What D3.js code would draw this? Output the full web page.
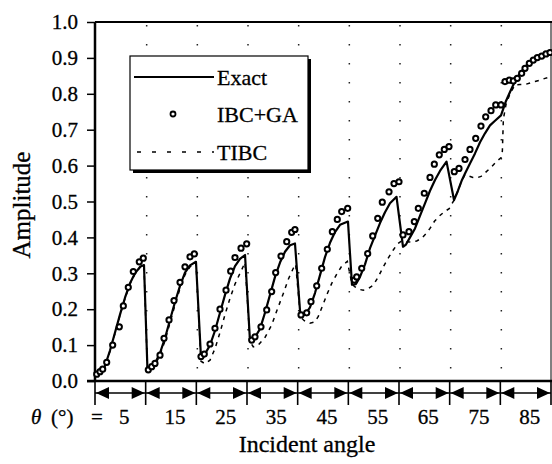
<!DOCTYPE html>
<html>
<head>
<meta charset="utf-8">
<script src="https://cdn.jsdelivr.net/npm/d3@7"></script>
<style>
  html, body { margin: 0; padding: 0; background: #fff; }
  svg { display: block; }
  text { font-family: "Liberation Serif", "Times New Roman", serif; fill: #000; stroke: #000; stroke-width: 0.3; }
</style>
</head>
<body>
<svg id="chart" width="552" height="464"></svg>
<script>
// Incident angle sweeps: each 10-degree band holds one sweep of the amplitude.
const angleBands = [0, 10, 20, 30, 40, 50, 60, 70, 80, 90];
const angleLabels = [5, 15, 25, 35, 45, 55, 65, 75, 85];
const amplitudeTicks = [0.0, 0.1, 0.2, 0.3, 0.4, 0.5, 0.6, 0.7, 0.8, 0.9, 1.0];

// Exact solution [angle position, amplitude]
const exactPoints = [
  [0, 0.012], [0.99, 0.022], [1.97, 0.042], [2.96, 0.085], [3.95, 0.135], [4.93, 0.185],
  [5.92, 0.232], [6.91, 0.272], [7.89, 0.300], [8.88, 0.318], [9.67, 0.323],
  [10.36, 0.030], [11.25, 0.040], [12.04, 0.055], [12.83, 0.078], [13.82, 0.12], [14.80, 0.17],
  [15.79, 0.22], [16.78, 0.265], [17.76, 0.302], [18.75, 0.322], [19.93, 0.332],
  [20.92, 0.065], [21.71, 0.075], [22.70, 0.10], [23.68, 0.14], [24.67, 0.19], [25.66, 0.24],
  [26.64, 0.285], [27.63, 0.32], [28.62, 0.34], [29.61, 0.351],
  [30.59, 0.112], [31.58, 0.122], [32.57, 0.145], [33.55, 0.19], [34.54, 0.24], [35.53, 0.29],
  [36.51, 0.33], [37.50, 0.36], [38.49, 0.378], [39.47, 0.383],
  [40.56, 0.178], [41.45, 0.185], [42.43, 0.205], [43.42, 0.245], [44.41, 0.295], [45.39, 0.345],
  [46.38, 0.385], [47.37, 0.415], [48.36, 0.435], [49.93, 0.444],
  [50.72, 0.268], [51.51, 0.27], [52.30, 0.29], [53.29, 0.325], [54.28, 0.37], [55.26, 0.405],
  [56.25, 0.44], [57.24, 0.47], [58.22, 0.495], [59.51, 0.513],
  [60.79, 0.374], [61.38, 0.38], [62.17, 0.40], [63.16, 0.425], [64.14, 0.46], [65.13, 0.495],
  [66.12, 0.53], [67.11, 0.56], [68.09, 0.585], [69.38, 0.611],
  [70.86, 0.504], [71.64, 0.53], [72.43, 0.56], [73.03, 0.578], [74.01, 0.606], [75.0, 0.634],
  [75.99, 0.665], [76.97, 0.69], [77.96, 0.712], [78.95, 0.725], [80.13, 0.74],
  [81.12, 0.78], [81.91, 0.805], [82.89, 0.835], [83.88, 0.857], [84.87, 0.875], [85.86, 0.89],
  [86.84, 0.899], [87.83, 0.905], [88.82, 0.912], [90, 0.922]
];

// IBC + GA approximation (markers)
const ibcGaPoints = [
  [0.34, 0.019], [0.99, 0.026], [1.52, 0.033], [2.31, 0.052], [3.49, 0.10], [4.80, 0.151],
  [5.59, 0.209], [6.57, 0.261], [7.56, 0.305], [8.74, 0.332], [9.53, 0.342],
  [10.52, 0.031], [11.19, 0.040], [11.84, 0.049], [12.83, 0.072], [13.62, 0.119], [14.61, 0.170],
  [15.59, 0.224], [16.78, 0.275], [17.76, 0.318], [18.75, 0.346], [19.60, 0.354],
  [20.92, 0.068], [21.57, 0.075], [22.70, 0.103], [23.68, 0.147], [24.67, 0.20], [25.86, 0.253],
  [26.78, 0.306], [27.63, 0.344], [28.82, 0.37], [29.94, 0.382],
  [30.93, 0.114], [31.58, 0.123], [32.76, 0.151], [33.89, 0.198], [34.87, 0.249], [35.66, 0.302],
  [36.71, 0.348], [37.84, 0.388], [38.82, 0.414], [39.47, 0.422],
  [40.66, 0.184], [41.78, 0.19], [42.63, 0.221], [43.76, 0.265], [44.74, 0.314], [45.85, 0.367],
  [46.84, 0.416], [47.82, 0.45], [48.69, 0.472], [49.87, 0.481],
  [51.18, 0.281], [51.65, 0.29], [52.64, 0.314], [53.82, 0.355], [54.81, 0.404], [55.80, 0.453],
  [56.70, 0.498], [58.03, 0.527], [59.01, 0.55], [60.0, 0.555],
  [60.79, 0.407], [61.97, 0.416], [63.02, 0.444], [63.81, 0.481], [64.99, 0.523], [66.12, 0.567],
  [66.97, 0.604], [67.95, 0.63], [68.94, 0.645], [69.87, 0.653],
  [70.91, 0.583], [71.84, 0.592], [73.03, 0.617], [74.01, 0.645], [75.14, 0.676], [76.18, 0.71],
  [77.11, 0.736], [78.16, 0.753], [79.09, 0.769], [80.13, 0.769],
  [80.92, 0.834], [81.77, 0.838], [82.56, 0.836], [83.35, 0.843], [84.21, 0.857], [84.87, 0.871],
  [85.72, 0.885], [86.51, 0.894], [87.30, 0.901], [88.16, 0.905], [89.01, 0.911], [89.80, 0.915]
];

// TIBC approximation (dashed)
const tibcPoints = [
  [0, 0.012], [0.99, 0.021], [1.97, 0.040], [2.96, 0.083], [3.95, 0.133], [4.93, 0.183],
  [5.92, 0.230], [6.91, 0.270], [7.89, 0.298], [8.88, 0.316], [9.67, 0.322],
  [10.36, 0.028], [11.25, 0.036], [12.04, 0.050], [12.83, 0.072], [13.82, 0.112], [14.80, 0.162],
  [15.79, 0.212], [16.78, 0.258], [17.76, 0.296], [18.75, 0.318], [19.93, 0.330],
  [20.92, 0.055], [21.71, 0.048], [22.70, 0.058], [23.68, 0.09], [24.67, 0.135], [25.66, 0.185],
  [26.64, 0.23], [27.63, 0.27], [28.62, 0.30], [29.61, 0.33],
  [30.59, 0.11], [31.24, 0.095], [32.2, 0.10], [33.5, 0.12], [34.87, 0.156], [36.0, 0.20],
  [37.17, 0.244], [38.2, 0.285], [39.14, 0.314], [39.6, 0.325],
  [40.56, 0.178], [41.3, 0.168], [42.43, 0.161], [43.4, 0.165], [44.07, 0.18], [45.06, 0.215],
  [45.9, 0.245], [46.72, 0.272], [47.8, 0.30], [48.7, 0.32], [49.8, 0.333],
  [50.72, 0.27], [51.32, 0.262], [52.2, 0.255], [52.96, 0.253], [54.0, 0.258], [54.93, 0.267],
  [55.9, 0.29], [56.9, 0.318], [57.9, 0.343], [58.87, 0.365], [59.7, 0.382], [60.53, 0.39],
  [61.5, 0.388], [62.5, 0.387], [63.5, 0.39], [64.5, 0.398], [65.3, 0.41], [66.12, 0.425],
  [67.0, 0.445], [68.0, 0.46], [69.0, 0.472], [69.9, 0.48],
  [70.86, 0.504], [71.64, 0.53], [72.43, 0.56], [73.03, 0.574], [73.8, 0.571], [74.6, 0.567],
  [75.4, 0.566], [76.2, 0.570], [77.0, 0.58], [78.3, 0.597], [79.3, 0.612], [80.13, 0.622],
  [80.4, 0.64], [80.6, 0.73], [81.12, 0.77], [81.91, 0.80], [82.89, 0.825], [83.88, 0.826],
  [84.87, 0.826], [85.86, 0.83], [86.84, 0.834], [87.83, 0.838], [88.82, 0.843], [90, 0.848]
];

const legendItems = ["Exact", "IBC+GA", "TIBC"];

const svg = d3.select("#chart");
const plot = { left: 95, right: 551, top: 22, bottom: 381 };

const x = d3.scaleLinear().domain([0, 90]).range([plot.left, plot.right]);
const y = d3.scaleLinear().domain([0, 1]).range([plot.bottom, plot.top]);

// dotted vertical guides at band boundaries
svg.append("g")
  .selectAll("line")
  .data(angleBands.slice(1, -1))
  .join("line")
  .attr("x1", d => x(d) + 1).attr("x2", d => x(d) + 1)
  .attr("y1", plot.top + 3).attr("y2", plot.bottom)
  .attr("stroke", "#222")
  .attr("stroke-width", 1.5)
  .attr("stroke-dasharray", "1.5,17.5");

// frame
svg.append("line").attr("x1", plot.left).attr("x2", plot.right + 1)
  .attr("y1", plot.top).attr("y2", plot.top).attr("stroke", "#000").attr("stroke-width", 2.2);
svg.append("line").attr("x1", plot.right).attr("x2", plot.right)
  .attr("y1", plot.top).attr("y2", plot.bottom).attr("stroke", "#000").attr("stroke-width", 1);

// y axis
const yAxis = d3.axisLeft(y)
  .tickValues(amplitudeTicks)
  .tickFormat(d3.format(".1f"))
  .tickSize(8)
  .tickPadding(9);
const yg = svg.append("g").attr("transform", `translate(${plot.left},0)`).call(yAxis);
yg.select(".domain").attr("stroke", "#000").attr("stroke-width", 2.5).attr("d", `M0,${plot.top}V${plot.bottom}`);
yg.selectAll(".tick line").attr("stroke", "#000").attr("stroke-width", 1.5);
yg.selectAll(".tick text").attr("font-size", 21).attr("font-family", "Liberation Serif");

// x axis line
svg.append("line").attr("x1", plot.left - 8).attr("x2", plot.right + 1)
  .attr("y1", plot.bottom).attr("y2", plot.bottom).attr("stroke", "#000").attr("stroke-width", 2.5);

// band boundary ticks and double-headed arrows
const arrowY = 393;
svg.append("g").selectAll("line")
  .data(angleBands)
  .join("line")
  .attr("x1", d => x(d)).attr("x2", d => x(d))
  .attr("y1", plot.bottom).attr("y2", 405)
  .attr("stroke", "#000").attr("stroke-width", 1.6);

const bands = d3.pairs(angleBands);
const arrows = svg.append("g");
arrows.selectAll("line")
  .data(bands)
  .join("line")
  .attr("x1", d => x(d[0])).attr("x2", d => x(d[1]))
  .attr("y1", arrowY).attr("y2", arrowY)
  .attr("stroke", "#000").attr("stroke-width", 1.6);
const headLen = 13, headHalf = 6;
arrows.selectAll("path.left")
  .data(bands)
  .join("path")
  .attr("class", "left")
  .attr("d", d => {
    const tip = x(d[0]) + 1;
    return `M${tip},${arrowY}L${tip + headLen},${arrowY - headHalf}L${tip + headLen},${arrowY + headHalf}Z`;
  })
  .attr("fill", "#000");
arrows.selectAll("path.right")
  .data(bands)
  .join("path")
  .attr("class", "right")
  .attr("d", d => {
    const tip = x(d[1]) - 1;
    return `M${tip},${arrowY}L${tip - headLen},${arrowY - headHalf}L${tip - headLen},${arrowY + headHalf}Z`;
  })
  .attr("fill", "#000");

// angle labels
svg.append("g").selectAll("text")
  .data(angleLabels)
  .join("text")
  .attr("x", d => x(d) + 4)
  .attr("y", 424)
  .attr("text-anchor", "middle")
  .attr("font-size", 21)
  .text(d => d);

svg.append("text").attr("x", 31).attr("y", 424)
  .attr("font-size", 21).attr("font-style", "italic").text("θ");
svg.append("text").attr("x", 51).attr("y", 424)
  .attr("font-size", 21).text("(°)");
svg.append("text").attr("x", 91).attr("y", 424)
  .attr("font-size", 21).text("=");

// axis titles
svg.append("text")
  .attr("x", 307).attr("y", 452)
  .attr("text-anchor", "middle")
  .attr("font-size", 24)
  .text("Incident angle");
svg.append("text")
  .attr("transform", "translate(30,205) rotate(-90)")
  .attr("text-anchor", "middle")
  .attr("font-size", 25)
  .text("Amplitude");

// curves
const line = d3.line().x(d => x(d[0])).y(d => y(d[1]));

svg.append("path")
  .datum(tibcPoints)
  .attr("d", line)
  .attr("fill", "none")
  .attr("stroke", "#000")
  .attr("stroke-width", 1.5)
  .attr("stroke-dasharray", "4,5");

svg.append("path")
  .datum(exactPoints)
  .attr("d", line)
  .attr("fill", "none")
  .attr("stroke", "#000")
  .attr("stroke-width", 2.2)
  .attr("stroke-linejoin", "round");

svg.append("g").selectAll("circle")
  .data(ibcGaPoints)
  .join("circle")
  .attr("cx", d => x(d[0]))
  .attr("cy", d => y(d[1]))
  .attr("r", 2.6)
  .attr("fill", "#fff")
  .attr("stroke", "#000")
  .attr("stroke-width", 2);

// legend
const lg = svg.append("g").attr("transform", "translate(130,56)");
lg.append("rect").attr("x", 3).attr("y", 3).attr("width", 178).attr("height", 114).attr("fill", "#000");
lg.append("rect").attr("x", 0).attr("y", 0).attr("width", 178).attr("height", 114)
  .attr("fill", "#fff").attr("stroke", "#000").attr("stroke-width", 1.2);

const rowY = [21, 58, 96];
lg.append("line").attr("x1", 4).attr("x2", 84).attr("y1", rowY[0]).attr("y2", rowY[0])
  .attr("stroke", "#000").attr("stroke-width", 2);
lg.append("circle").attr("cx", 43).attr("cy", rowY[1]).attr("r", 2.5)
  .attr("fill", "#fff").attr("stroke", "#000").attr("stroke-width", 1.8);
lg.append("line").attr("x1", 7).attr("x2", 84).attr("y1", rowY[2]).attr("y2", rowY[2])
  .attr("stroke", "#000").attr("stroke-width", 1.5).attr("stroke-dasharray", "4,11");

lg.selectAll("text.item")
  .data(legendItems)
  .join("text")
  .attr("class", "item")
  .attr("x", 87)
  .attr("y", (d, i) => rowY[i] + 8)
  .attr("font-size", 22)
  .text(d => d);
</script>
</body>
</html>
